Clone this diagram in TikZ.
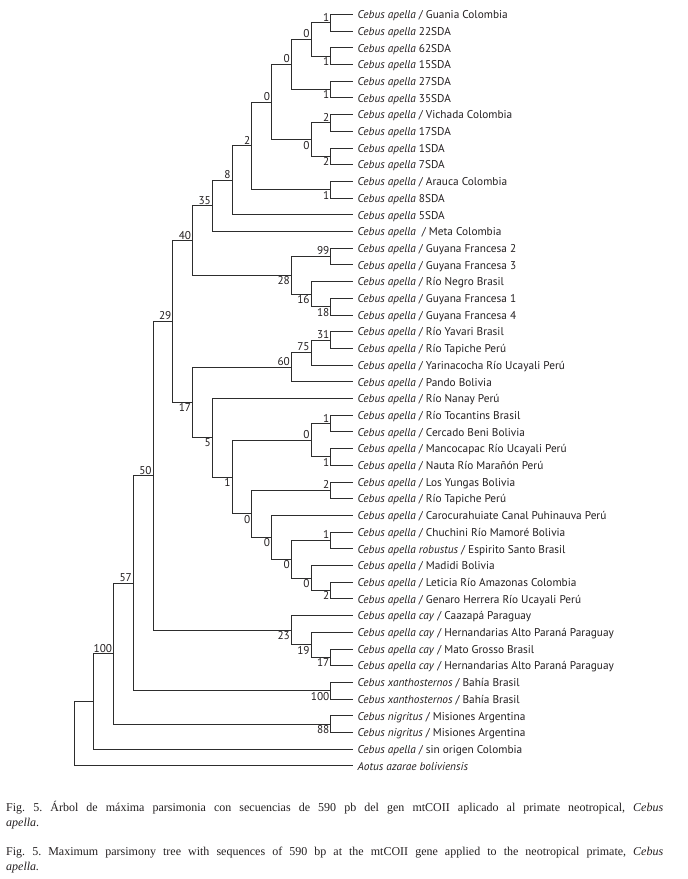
\documentclass[tikz,border=0pt]{standalone}
\usepackage{fontspec}
\setmainfont{Liberation Serif}
\setsansfont{PT Sans}
\usepackage{tikz}
\definecolor{branch}{RGB}{45,45,45}
\definecolor{ink}{RGB}{35,31,32}

% rows and columns of the tree, in pixels of the page
\pgfmathdeclarefunction{row}{1}{\pgfmathparse{-2.4+16.7*#1}}
\pgfmathdeclarefunction{col}{1}{\pgfmathparse{74+19.75*#1}}
\newcommand{\taxon}[1]{\textit{#1}}

\begin{document}
\frenchspacing
\begin{tikzpicture}[x=1pt,y=-1pt,
    leaf/.style={anchor=west, inner xsep=4.5pt, inner ysep=0pt, text height=9.6pt, text depth=1pt,
                 font=\sffamily\fontsize{11.3}{13}\selectfont, text=ink},
    bsa/.style={anchor=south east, inner sep=1.2pt, font=\sffamily\fontsize{11.3}{13}\selectfont, text=ink},
    bsb/.style={anchor=north east, inner sep=1.2pt, font=\sffamily\fontsize{11.3}{13}\selectfont, text=ink},
    edge/.style={draw=branch, line width=0.8pt},
    capline/.style={anchor=base west, inner sep=0pt, font=\fontsize{12}{16}\selectfont, text=ink}]
    \useasboundingbox (0,0) rectangle (688,879);

    % leaves
    \node[leaf] (l1) at (353,{row(1)}) {\taxon{Cebus apella} / Guania Colombia};
    \node[leaf] (l2) at (353,{row(2)}) {\taxon{Cebus apella} 22SDA};
    \node[leaf] (l3) at (353,{row(3)}) {\taxon{Cebus apella} 62SDA};
    \node[leaf] (l4) at (353,{row(4)}) {\taxon{Cebus apella} 15SDA};
    \node[leaf] (l5) at (353,{row(5)}) {\taxon{Cebus apella} 27SDA};
    \node[leaf] (l6) at (353,{row(6)}) {\taxon{Cebus apella} 35SDA};
    \node[leaf] (l7) at (353,{row(7)}) {\taxon{Cebus apella} / Vichada Colombia};
    \node[leaf] (l8) at (353,{row(8)}) {\taxon{Cebus apella} 17SDA};
    \node[leaf] (l9) at (353,{row(9)}) {\taxon{Cebus apella} 1SDA};
    \node[leaf] (l10) at (353,{row(10)}) {\taxon{Cebus apella} 7SDA};
    \node[leaf] (l11) at (353,{row(11)}) {\taxon{Cebus apella} / Arauca Colombia};
    \node[leaf] (l12) at (353,{row(12)}) {\taxon{Cebus apella} 8SDA};
    \node[leaf] (l13) at (353,{row(13)}) {\taxon{Cebus apella} 5SDA};
    \node[leaf] (l14) at (353,{row(14)}) {\taxon{Cebus apella} \ / Meta Colombia};
    \node[leaf] (l15) at (353,{row(15)}) {\taxon{Cebus apella} / Guyana Francesa 2};
    \node[leaf] (l16) at (353,{row(16)}) {\taxon{Cebus apella} / Guyana Francesa 3};
    \node[leaf] (l17) at (353,{row(17)}) {\taxon{Cebus apella} / Río Negro Brasil};
    \node[leaf] (l18) at (353,{row(18)}) {\taxon{Cebus apella} / Guyana Francesa 1};
    \node[leaf] (l19) at (353,{row(19)}) {\taxon{Cebus apella} / Guyana Francesa 4};
    \node[leaf] (l20) at (353,{row(20)}) {\taxon{Cebus apella} / Río Yavari Brasil};
    \node[leaf] (l21) at (353,{row(21)}) {\taxon{Cebus apella} / Río Tapiche Perú};
    \node[leaf] (l22) at (353,{row(22)}) {\taxon{Cebus apella} / Yarinacocha Río Ucayali Perú};
    \node[leaf] (l23) at (353,{row(23)}) {\taxon{Cebus apella} / Pando Bolivia};
    \node[leaf] (l24) at (353,{row(24)}) {\taxon{Cebus apella} / Río Nanay Perú};
    \node[leaf] (l25) at (353,{row(25)}) {\taxon{Cebus apella} / Río Tocantins Brasil};
    \node[leaf] (l26) at (353,{row(26)}) {\taxon{Cebus apella} / Cercado Beni Bolivia};
    \node[leaf] (l27) at (353,{row(27)}) {\taxon{Cebus apella} / Mancocapac Río Ucayali Perú};
    \node[leaf] (l28) at (353,{row(28)}) {\taxon{Cebus apella} / Nauta Río Marañón Perú};
    \node[leaf] (l29) at (353,{row(29)}) {\taxon{Cebus apella} / Los Yungas Bolivia};
    \node[leaf] (l30) at (353,{row(30)}) {\taxon{Cebus apella} / Río Tapiche Perú};
    \node[leaf] (l31) at (353,{row(31)}) {\taxon{Cebus apella} / Carocurahuiate Canal Puhinauva Perú};
    \node[leaf] (l32) at (353,{row(32)}) {\taxon{Cebus apella} / Chuchini Río Mamoré Bolivia};
    \node[leaf] (l33) at (353,{row(33)}) {\taxon{Cebus apella robustus} / Espirito Santo Brasil};
    \node[leaf] (l34) at (353,{row(34)}) {\taxon{Cebus apella} / Madidi Bolivia};
    \node[leaf] (l35) at (353,{row(35)}) {\taxon{Cebus apella} / Leticia Río Amazonas Colombia};
    \node[leaf] (l36) at (353,{row(36)}) {\taxon{Cebus apella} / Genaro Herrera Río Ucayali Perú};
    \node[leaf] (l37) at (353,{row(37)}) {\taxon{Cebus apella cay} / Caazapá Paraguay};
    \node[leaf] (l38) at (353,{row(38)}) {\taxon{Cebus apella cay} / Hernandarias Alto Paraná Paraguay};
    \node[leaf] (l39) at (353,{row(39)}) {\taxon{Cebus apella cay} / Mato Grosso Brasil};
    \node[leaf] (l40) at (353,{row(40)}) {\taxon{Cebus apella cay} / Hernandarias Alto Paraná Paraguay};
    \node[leaf] (l41) at (353,{row(41)}) {\taxon{Cebus xanthosternos} / Bahía Brasil};
    \node[leaf] (l42) at (353,{row(42)}) {\taxon{Cebus xanthosternos} / Bahía Brasil};
    \node[leaf] (l43) at (353,{row(43)}) {\taxon{Cebus nigritus} / Misiones Argentina};
    \node[leaf] (l44) at (353,{row(44)}) {\taxon{Cebus nigritus} / Misiones Argentina};
    \node[leaf] (l45) at (353,{row(45)}) {\taxon{Cebus apella} / sin origen Colombia};
    \node[leaf] (l46) at (353,{row(46)}) {\taxon{Aotus azarae boliviensis}};

    % internal nodes
    \coordinate (cA1) at ({col(13)},{row(1.5)});
    \coordinate (cA2) at ({col(13)},{row(3.5)});
    \coordinate (nA) at ({col(12)},{row(2.5)});
    \coordinate (cA3) at ({col(13)},{row(5.5)});
    \coordinate (nB) at ({col(11)},{row(4)});
    \coordinate (cB1) at ({col(13)},{row(7.5)});
    \coordinate (cB2) at ({col(13)},{row(9.5)});
    \coordinate (nC) at ({col(12)},{row(8.5)});
    \coordinate (nD) at ({col(10)},{row(6.25)});
    \coordinate (cE) at ({col(13)},{row(11.5)});
    \coordinate (nE) at ({col(9)},{row(8.875)});
    \coordinate (nF) at ({col(8)},{row(10.9375)});
    \coordinate (nG) at ({col(7)},{row(12.46875)});
    \coordinate (cH1) at ({col(13)},{row(15.5)});
    \coordinate (cH2) at ({col(13)},{row(18.5)});
    \coordinate (nH2) at ({col(12)},{row(17.75)});
    \coordinate (nH) at ({col(11)},{row(16.625)});
    \coordinate (nI) at ({col(6)},{row(14.546875)});
    \coordinate (cJ) at ({col(13)},{row(20.5)});
    \coordinate (nJ2) at ({col(12)},{row(21.25)});
    \coordinate (nJ) at ({col(11)},{row(22.125)});
    \coordinate (cM1) at ({col(13)},{row(25.5)});
    \coordinate (cM2) at ({col(13)},{row(27.5)});
    \coordinate (nM) at ({col(12)},{row(26.5)});
    \coordinate (nO) at ({col(13)},{row(29.5)});
    \coordinate (cQ) at ({col(13)},{row(32.5)});
    \coordinate (cR) at ({col(13)},{row(35.5)});
    \coordinate (nR) at ({col(12)},{row(34.75)});
    \coordinate (nQ) at ({col(11)},{row(33.625)});
    \coordinate (nP) at ({col(10)},{row(32.3125)});
    \coordinate (nN) at ({col(9)},{row(30.90625)});
    \coordinate (nL) at ({col(8)},{row(28.703125)});
    \coordinate (nK) at ({col(7)},{row(26.3515625)});
    \coordinate (nS) at ({col(6)},{row(24.23828)});
    \coordinate (nT) at ({col(5)},{row(19.39258)});
    \coordinate (cU) at ({col(13)},{row(39.5)});
    \coordinate (nU2) at ({col(12)},{row(38.75)});
    \coordinate (nU) at ({col(11)},{row(37.875)});
    \coordinate (nV) at ({col(4)},{row(28.63379)});
    \coordinate (cW) at ({col(13)},{row(41.5)});
    \coordinate (nW) at ({col(3)},{row(35.0669)});
    \coordinate (cX) at ({col(13)},{row(43.5)});
    \coordinate (nX) at ({col(2)},{row(39.2835)});
    \coordinate (nY) at ({col(1)},{row(42.1417)});
    \coordinate (nZ) at ({col(0)},{row(44.07085)});

    % branches
    \draw[edge] (cA1) |- (l1.west) (cA1) |- (l2.west);
    \draw[edge] (cA2) |- (l3.west) (cA2) |- (l4.west);
    \draw[edge] (nA) |- (cA1) (nA) |- (cA2);
    \draw[edge] (cA3) |- (l5.west) (cA3) |- (l6.west);
    \draw[edge] (nB) |- (nA) (nB) |- (cA3);
    \draw[edge] (cB1) |- (l7.west) (cB1) |- (l8.west);
    \draw[edge] (cB2) |- (l9.west) (cB2) |- (l10.west);
    \draw[edge] (nC) |- (cB1) (nC) |- (cB2);
    \draw[edge] (nD) |- (nB) (nD) |- (nC);
    \draw[edge] (cE) |- (l11.west) (cE) |- (l12.west);
    \draw[edge] (nE) |- (nD) (nE) |- (cE);
    \draw[edge] (nF) |- (nE) (nF) |- (l13.west);
    \draw[edge] (nG) |- (nF) (nG) |- (l14.west);
    \draw[edge] (cH1) |- (l15.west) (cH1) |- (l16.west);
    \draw[edge] (cH2) |- (l18.west) (cH2) |- (l19.west);
    \draw[edge] (nH2) |- (l17.west) (nH2) |- (cH2);
    \draw[edge] (nH) |- (cH1) (nH) |- (nH2);
    \draw[edge] (nI) |- (nG) (nI) |- (nH);
    \draw[edge] (cJ) |- (l20.west) (cJ) |- (l21.west);
    \draw[edge] (nJ2) |- (cJ) (nJ2) |- (l22.west);
    \draw[edge] (nJ) |- (nJ2) (nJ) |- (l23.west);
    \draw[edge] (cM1) |- (l25.west) (cM1) |- (l26.west);
    \draw[edge] (cM2) |- (l27.west) (cM2) |- (l28.west);
    \draw[edge] (nM) |- (cM1) (nM) |- (cM2);
    \draw[edge] (nO) |- (l29.west) (nO) |- (l30.west);
    \draw[edge] (cQ) |- (l32.west) (cQ) |- (l33.west);
    \draw[edge] (cR) |- (l35.west) (cR) |- (l36.west);
    \draw[edge] (nR) |- (l34.west) (nR) |- (cR);
    \draw[edge] (nQ) |- (cQ) (nQ) |- (nR);
    \draw[edge] (nP) |- (l31.west) (nP) |- (nQ);
    \draw[edge] (nN) |- (nO) (nN) |- (nP);
    \draw[edge] (nL) |- (nM) (nL) |- (nN);
    \draw[edge] (nK) |- (l24.west) (nK) |- (nL);
    \draw[edge] (nS) |- (nJ) (nS) |- (nK);
    \draw[edge] (nT) |- (nI) (nT) |- (nS);
    \draw[edge] (cU) |- (l39.west) (cU) |- (l40.west);
    \draw[edge] (nU2) |- (l38.west) (nU2) |- (cU);
    \draw[edge] (nU) |- (l37.west) (nU) |- (nU2);
    \draw[edge] (nV) |- (nT) (nV) |- (nU);
    \draw[edge] (cW) |- (l41.west) (cW) |- (l42.west);
    \draw[edge] (nW) |- (nV) (nW) |- (cW);
    \draw[edge] (cX) |- (l43.west) (cX) |- (l44.west);
    \draw[edge] (nX) |- (nW) (nX) |- (cX);
    \draw[edge] (nY) |- (nX) (nY) |- (l45.west);
    \draw[edge] (nZ) |- (nY) (nZ) |- (l46.west);

    % support values
    \node[bsa] (b-cA1) at (cA1) {1};
    \node[bsb] (b-cA2) at (cA2) {1};
    \node[bsa] (b-nA) at (nA) {0};
    \node[bsb] (b-cA3) at (cA3) {1};
    \node[bsa] (b-nB) at (nB) {0};
    \node[bsa] (b-cB1) at (cB1) {2};
    \node[bsb] (b-cB2) at (cB2) {2};
    \node[bsb] (b-nC) at (nC) {0};
    \node[bsa] (b-nD) at (nD) {0};
    \node[bsb] (b-cE) at (cE) {1};
    \node[bsa] (b-nE) at (nE) {2};
    \node[bsa] (b-nF) at (nF) {8};
    \node[bsa] (b-nG) at (nG) {35};
    \node[bsa] (b-cH1) at (cH1) {99};
    \node[bsb] (b-cH2) at (cH2) {18};
    \node[bsb] (b-nH2) at (nH2) {16};
    \node[bsb] (b-nH) at (nH) {28};
    \node[bsa] (b-nI) at (nI) {40};
    \node[bsa] (b-cJ) at (cJ) {31};
    \node[bsa] (b-nJ2) at (nJ2) {75};
    \node[bsa] (b-nJ) at (nJ) {60};
    \node[bsa] (b-cM1) at (cM1) {1};
    \node[bsb] (b-cM2) at (cM2) {1};
    \node[bsa] (b-nM) at (nM) {0};
    \node[bsa] (b-nO) at (nO) {2};
    \node[bsa] (b-cQ) at (cQ) {1};
    \node[bsb] (b-cR) at (cR) {2};
    \node[bsb] (b-nR) at (nR) {0};
    \node[bsb] (b-nQ) at (nQ) {0};
    \node[bsb] (b-nP) at (nP) {0};
    \node[bsb] (b-nN) at (nN) {0};
    \node[bsb] (b-nL) at (nL) {1};
    \node[bsb] (b-nK) at (nK) {5};
    \node[bsb] (b-nS) at (nS) {17};
    \node[bsa] (b-nT) at (nT) {29};
    \node[bsb] (b-cU) at (cU) {17};
    \node[bsb] (b-nU2) at (nU2) {19};
    \node[bsb] (b-nU) at (nU) {23};
    \node[bsa] (b-nV) at (nV) {50};
    \node[bsb] (b-cW) at (cW) {100};
    \node[bsa] (b-nW) at (nW) {57};
    \node[bsb] (b-cX) at (cX) {88};
    \node[bsa] (b-nX) at (nX) {100};

    % caption
    \node[capline] (cap1) at (6,811) {\makebox[657pt][s]{Fig. 5. Árbol de máxima parsimonia con secuencias de 590 pb del gen mtCOII aplicado al primate neotropical, \taxon{Cebus}}};
    \node[capline] (cap2) at (6,826) {\taxon{apella}.};
    \node[capline] (cap3) at (6,855) {\makebox[657pt][s]{Fig. 5. Maximum parsimony tree with sequences of 590 bp at the mtCOII gene applied to the neotropical primate, \taxon{Cebus}}};
    \node[capline] (cap4) at (6,870) {\taxon{apella.}};
\end{tikzpicture}
\end{document}
